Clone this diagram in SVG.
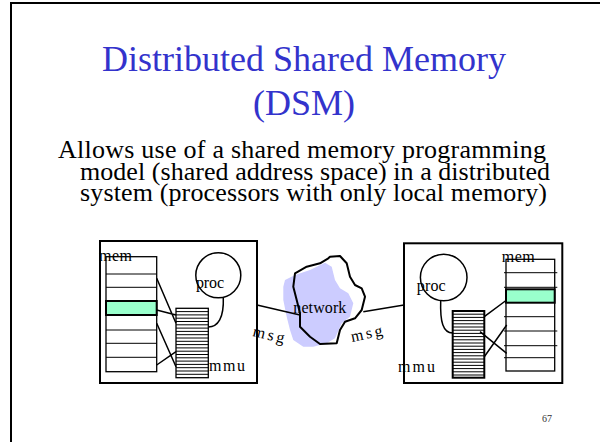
<svg xmlns="http://www.w3.org/2000/svg" width="600" height="442" viewBox="0 0 600 442">
<style>
.ln{fill:none;stroke:#000;stroke-width:1.5}
.bx{fill:none;stroke:#000;stroke-width:2}
.row{fill:#fff;stroke:#000;stroke-width:1.3}
.hot{fill:#99ffcc;stroke:#000;stroke-width:2}
.lbl{font-family:"Liberation Serif","Times New Roman",serif;font-size:16px;fill:#000}
.title{font-family:"Liberation Serif","Times New Roman",serif;font-size:36px;fill:#3333cc}
.body{font-family:"Liberation Serif","Times New Roman",serif;font-size:26px;fill:#000}
.stripe{stroke:#000;stroke-width:1}
</style>
<rect x="11" y="3" width="620" height="460" fill="#fff" stroke="#000" stroke-width="2"/>
<g id="title">
<text class="title" x="304" y="71" text-anchor="middle">Distributed Shared Memory</text>
<text class="title" x="304" y="115" text-anchor="middle">(DSM)</text>
</g>
<g id="body">
<text class="body" x="58" y="158" textLength="488">Allows use of a shared memory programming</text>
<text class="body" x="80" y="180" textLength="470">model (shared address space) in a distributed</text>
<text class="body" x="80" y="201" textLength="467">system (processors with only local memory)</text>
</g>
<g id="left-node">
<rect class="bx" x="100" y="241" width="157" height="142"/>
<g id="left-mem">
<rect class="row" x="106" y="256.7" width="50.7" height="115"/>
<line class="stripe" x1="106" y1="274" x2="156.7" y2="274"/>
<line class="stripe" x1="106" y1="287.3" x2="156.7" y2="287.3"/>
<rect class="hot" x="106" y="301" width="50.7" height="14"/>
<line class="stripe" x1="106" y1="330" x2="156.7" y2="330"/>
<line class="stripe" x1="106" y1="343.3" x2="156.7" y2="343.3"/>
<line class="stripe" x1="106" y1="357.3" x2="156.7" y2="357.3"/>
<text class="lbl" x="99" y="261" textLength="33">mem</text>
</g>
<g id="left-mmu">
<rect class="row" x="176" y="308.3" width="32.3" height="69.4"/>
<path class="stripe" d="M176,311.6H208.3M176,314.9H208.3M176,318.2H208.3M176,321.5H208.3M176,324.8H208.3M176,328.1H208.3M176,331.4H208.3M176,334.7H208.3M176,338H208.3M176,341.3H208.3M176,344.6H208.3M176,347.9H208.3M176,351.2H208.3M176,354.5H208.3M176,357.8H208.3M176,361.1H208.3M176,364.4H208.3M176,367.7H208.3M176,371H208.3M176,374.3H208.3"/>
<text class="lbl" x="209" y="371" textLength="36">mmu</text>
</g>
<g id="left-proc">
<circle class="ln" cx="218.3" cy="275.3" r="22.5"/>
<text class="lbl" x="196" y="288" textLength="28">proc</text>
</g>
<path class="ln" d="M156.7,278.3L176,323.3M156.7,310L176,315M156.7,323.3L176,366.7M156.7,365L176,351.7"/>
<path class="ln" d="M223.3,297.5C224,318 218,327 208.3,327"/>
</g>
<g id="right-node">
<rect class="bx" x="404" y="243.3" width="158.3" height="139.7"/>
<g id="right-mem">
<rect class="row" x="506" y="259.3" width="48.7" height="111.7"/>
<path class="stripe" d="M504,272.7H557.3M504,287.3H557.3M504,316.7H554.7M504,331H557.3M504,345.7H557.3M504,357.7H554.7"/>
<rect class="hot" x="506" y="289.3" width="48.7" height="13.4"/>
<text class="lbl" x="501.7" y="261.7" textLength="33">mem</text>
</g>
<g id="right-mmu">
<rect class="bx" x="452.7" y="311" width="31.6" height="66.7"/>
<path class="stripe" d="M452.7,314.2H484.3M452.7,317.4H484.3M452.7,320.6H484.3M452.7,323.8H484.3M452.7,327H484.3M452.7,330.2H484.3M452.7,333.4H484.3M452.7,336.6H484.3M452.7,339.8H484.3M452.7,343H484.3M452.7,346.2H484.3M452.7,349.4H484.3M452.7,352.6H484.3M452.7,355.8H484.3M452.7,359H484.3M452.7,362.2H484.3M452.7,365.4H484.3M452.7,368.6H484.3M452.7,371.8H484.3M452.7,375H484.3"/>
<text class="lbl" x="398" y="371.7" textLength="37">mmu</text>
</g>
<g id="right-proc">
<circle class="ln" cx="443.7" cy="277.5" r="23.3"/>
<text class="lbl" x="416.7" y="291" textLength="29">proc</text>
</g>
<path class="ln" d="M484.3,316.7L506.7,300M480,331.7L506.7,353.3M484.3,356.7L506.7,325"/>
<path class="ln" d="M440.7,300.5C440,322 443,333 452.7,333"/>
</g>
<g id="network">
<path d="M285,280L295,275L310,270L325,262.7L331.7,266.7L335,280L340,288.3L348.3,293.3L353.3,303.3L350,316.7L341.7,323.3L335,338.3L326.7,343.3L313.3,346.7L303.3,346.7L293.3,340L290,330L286.7,316.7L283.3,300L283.3,286.7Z" fill="#ccccff"/>
<path d="M330,256.7L340,256L346.7,263.3L350,276.7L355,285L361.7,288.3L365,296.7L361.7,310L355,318.3L345,321.7L340,330L336.7,343.3L320,344L310,336.7L300,326.7L300,313.3L296.7,300L293.3,286.7L295,273.3L306.7,266.7L320,263.3L328.3,258.3Z" fill="none" stroke="#000" stroke-width="2" stroke-linejoin="round"/>
<text class="lbl" x="293.3" y="313.3" textLength="53">network</text>
</g>
<g id="connectors">
<line class="ln" x1="257" y1="305" x2="300" y2="315"/>
<line class="ln" x1="363.3" y1="311.7" x2="404" y2="305"/>
<text class="lbl" transform="translate(252,336) rotate(13)" textLength="32">msg</text>
<text class="lbl" transform="translate(352,342) rotate(-12)" textLength="32">msg</text>
</g>
<text x="542" y="422" font-family="Liberation Serif,serif" font-size="10" fill="#333">67</text>
</svg>
